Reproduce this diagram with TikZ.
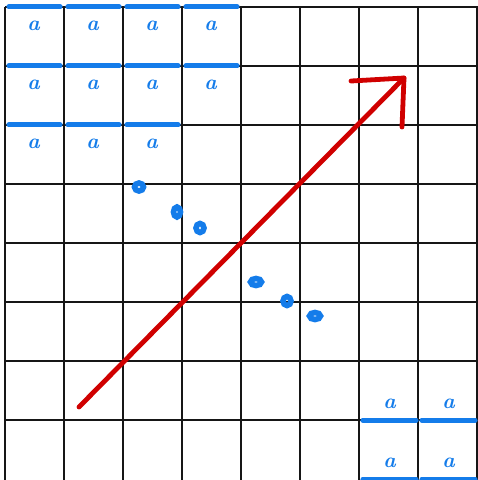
\documentclass[tikz,border=0pt]{standalone}
\usepackage{tikz}
\usetikzlibrary{calc}
\definecolor{gridInk}{RGB}{22,22,22}
\definecolor{markBlue}{RGB}{20,124,234}
\definecolor{arrowRed}{RGB}{208,0,0}
\tikzset{
  cell/.style={minimum size=59pt,inner sep=0pt},
  letter/.style={inner sep=0pt,font=\bfseries\itshape\fontsize{21}{21}\selectfont,text=markBlue},
  bar/.style={markBlue,line width=4.8pt,line cap=round},
  blob/.style={draw=markBlue,line width=5.6pt},
  stroke/.style={arrowRed,line width=4.8pt,line cap=round,line join=round}
}
\begin{document}
\begin{tikzpicture}[x=1pt,y=-1pt]
  \useasboundingbox (0,0) rectangle (478,480);
  \fill[white] (0,0) rectangle (478,480);
  % cells of the board
  \foreach \r in {0,...,7}{
    \foreach \c in {0,...,7}{
      \node[cell] (c\r\c) at ({34.5+59*\c},{36.5+59*\r}) {};
    }
  }
  \foreach \k in {0,...,8}{
    \draw[gridInk,line width=2.4pt] ({5+59*\k},7) -- ({5+59*\k},480);
  }
  \foreach \k in {0,...,7}{
    \draw[gridInk,line width=2.4pt] (5,{7+59*\k}) -- (478,{7+59*\k});
  }
  % letters in the upper left corner, bar above
  \foreach \r/\c in {0/0,0/1,0/2,0/3,1/0,1/1,1/2,1/3,2/0,2/1,2/2}{
    \draw[bar] ($(c\r\c.north west)+(4,0)$) -- ($(c\r\c.north east)+(-4,0)$);
    \node[letter] (a\r\c) at ($(c\r\c.north)+(-1,19)$) {a};
  }
  % letters in the lower right corner, bar below
  \foreach \r/\c in {6/6,6/7,7/6,7/7}{
    \draw[bar] ($(c\r\c.south west)+(4,0)$) -- ($(c\r\c.south east)+(-2,0)$);
    \node[letter] (a\r\c) at ($(c\r\c.north)+(1,43)$) {a};
  }
  % dots along the diagonal
  \foreach \x/\y/\rx/\ry in {139/187/4.5/4,177/212/3.5/5,200/228/4/4.5,256/282/5.5/3.5,287/301/4/4.5,315/316/5.5/3.5}{
    \draw[blob] (\x,\y) ellipse [x radius=\rx,y radius=\ry];
  }
  % red arrow
  \coordinate (start) at (79,407);
  \coordinate (tip) at (404,78);
  \coordinate (barbL) at (351,81);
  \coordinate (barbD) at (402,127);
  \draw[stroke] (start) -- (tip);
  \draw[stroke] (barbL) -- (tip) -- (barbD);
\end{tikzpicture}
\end{document}
